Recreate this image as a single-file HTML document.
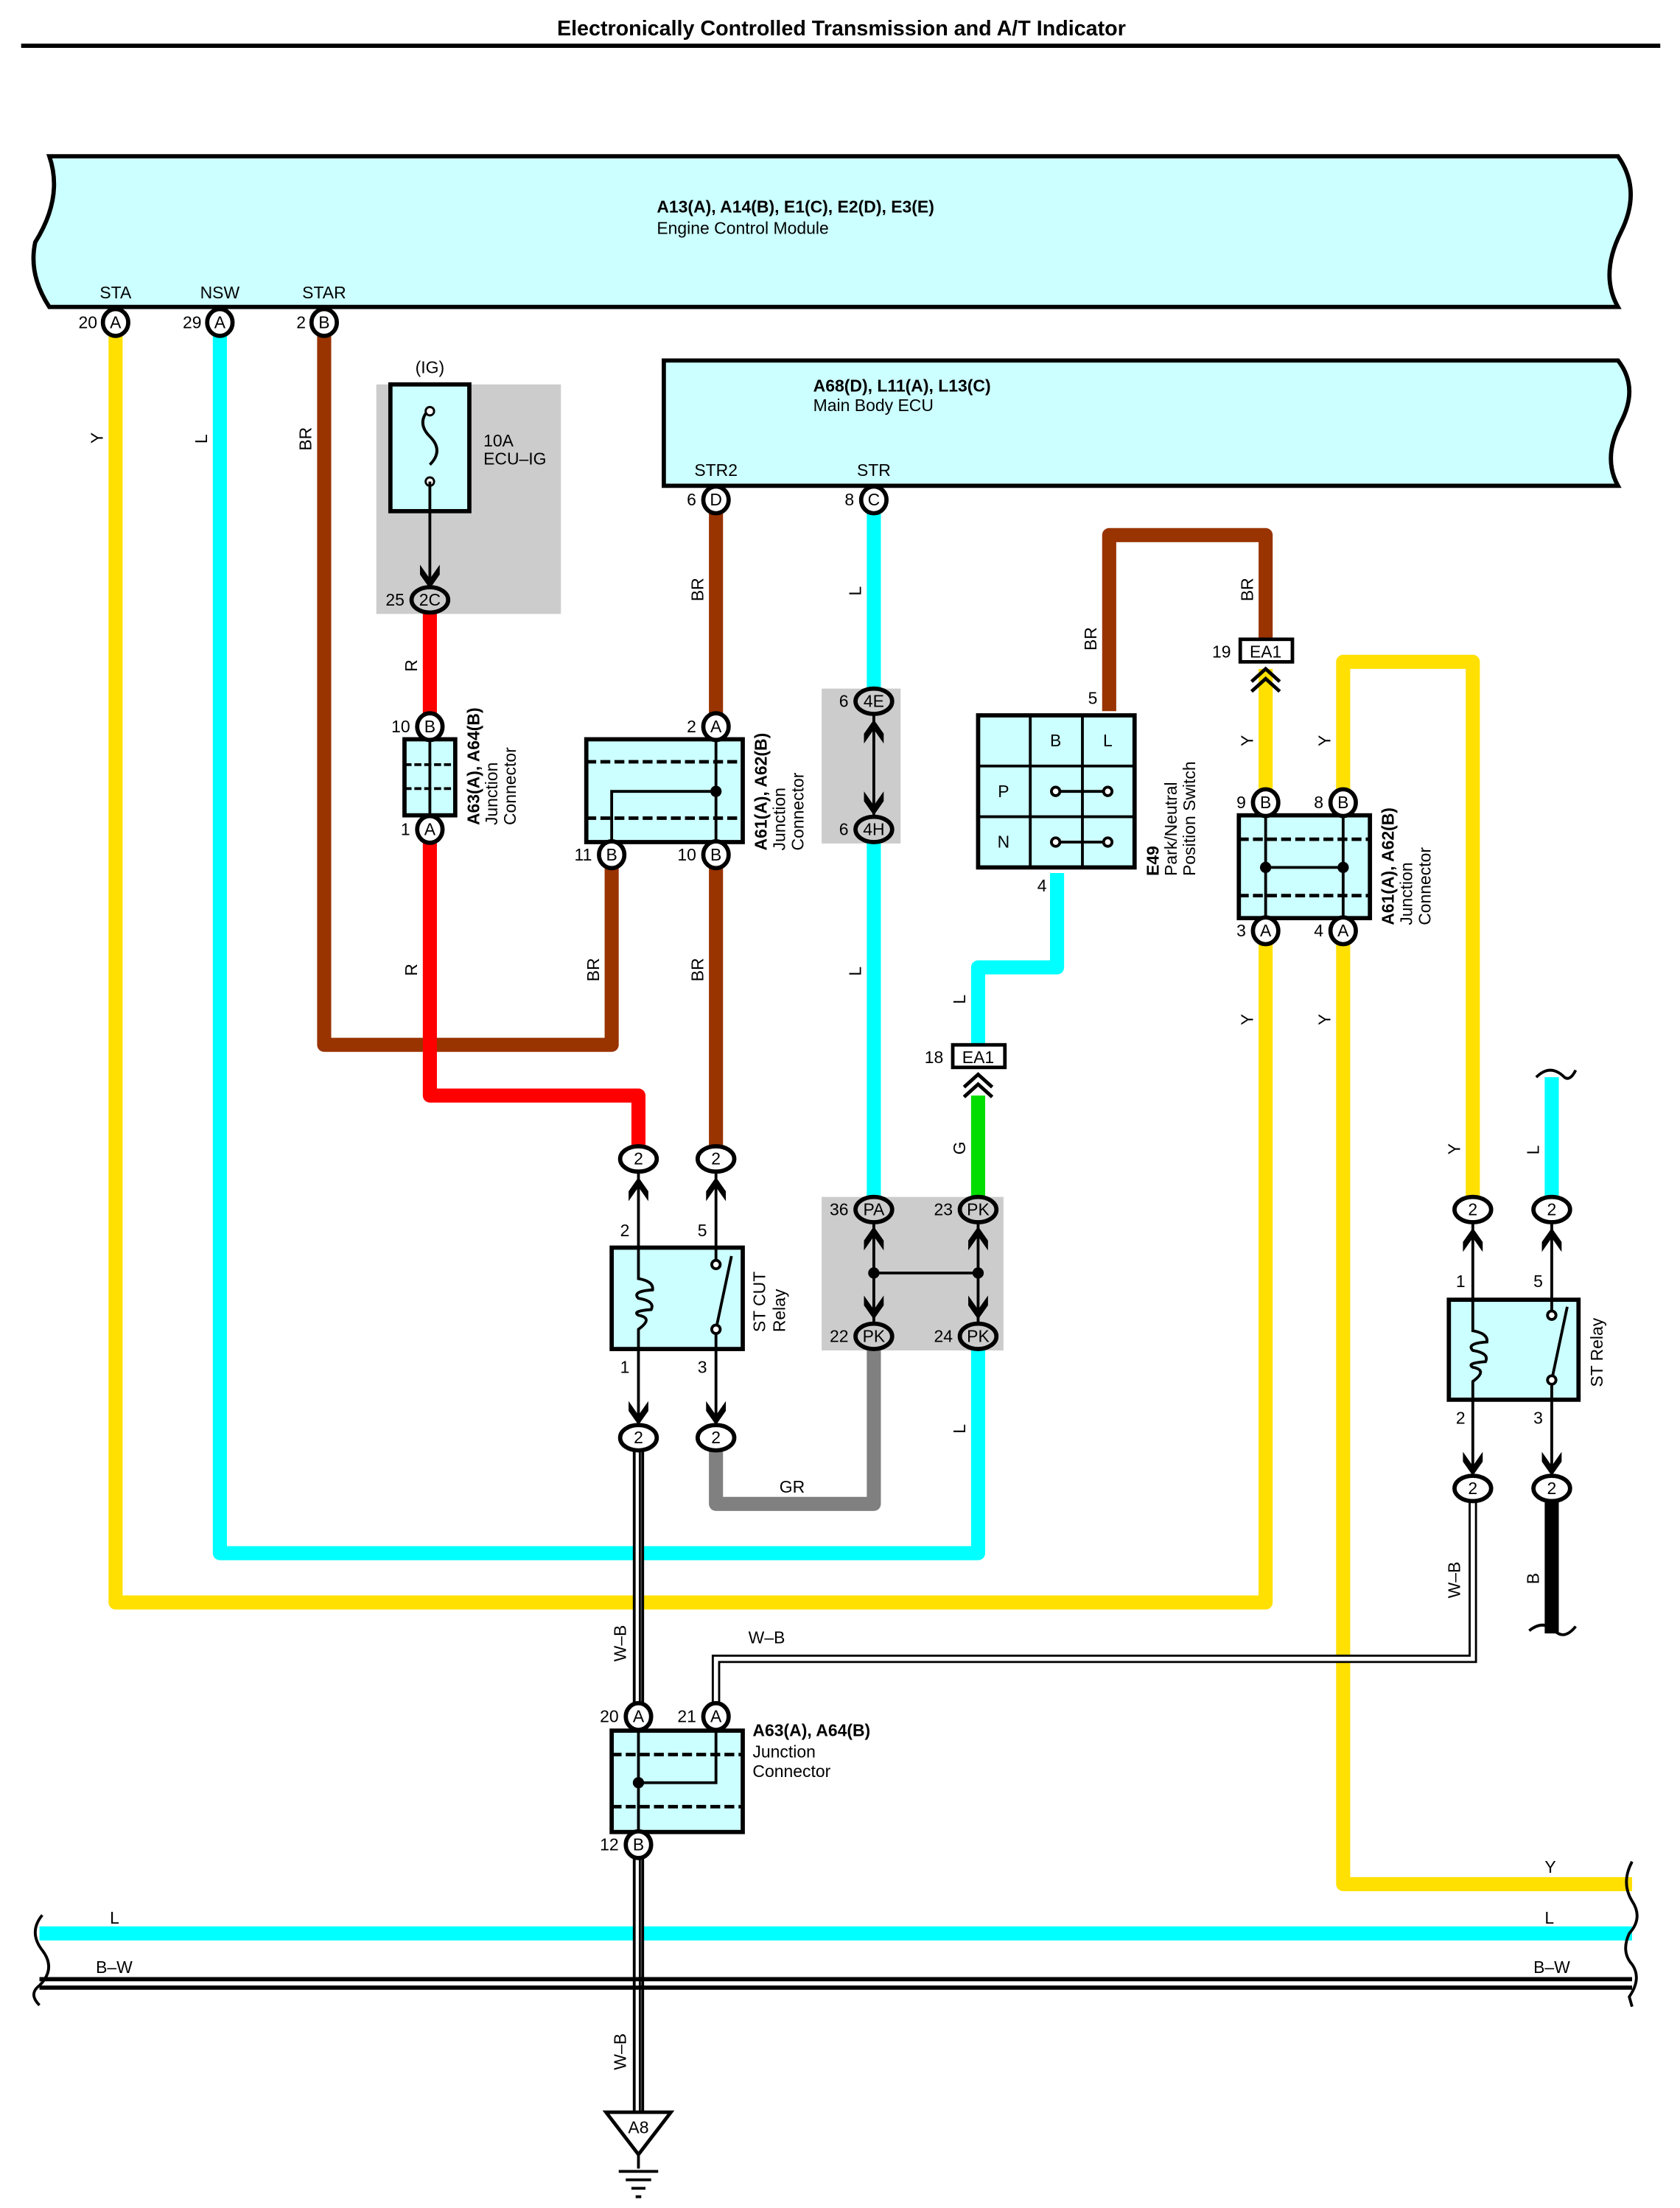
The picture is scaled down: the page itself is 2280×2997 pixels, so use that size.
<!DOCTYPE html>
<html><head><meta charset="utf-8"><style>
html,body{margin:0;padding:0;background:#fff}
svg{display:block}
text{font-family:"Liberation Sans",sans-serif;font-size:12px;fill:#000}
.b{font-weight:bold}
</style></head><body>
<svg width="2280" height="2997" viewBox="0 0 1192 1568" preserveAspectRatio="none" xmlns="http://www.w3.org/2000/svg">
<defs>
<symbol id="up" viewBox="-8 -10 16 20" overflow="visible"><path d="M-7,8 L0,-2 L7,8 L7,1 L0,-9 L-7,1 Z" fill="#000"/></symbol>
</defs>
<text x="597" y="25" text-anchor="middle" class="b" style="font-size:15px">Electronically Controlled Transmission and A/T Indicator</text>
<rect x="15" y="31" width="1163" height="3" fill="#000"/>

<rect x="267" y="273" width="131" height="163" fill="#cccccc"/>
<rect x="583" y="489" width="56" height="110" fill="#cccccc"/>
<rect x="583" y="850" width="129" height="109" fill="#cccccc"/>

<path d="M35,111 L1148,111 Q1165,135 1150,165 Q1135,195 1148,218 L35,218 Q20,195 25,172 Q45,140 35,111 Z" fill="#ccffff" stroke="#000" stroke-width="3"/>
<text x="466" y="151" class="b">A13(A), A14(B), E1(C), E2(D), E3(E)</text>
<text x="466" y="166">Engine Control Module</text>
<text x="82" y="212" text-anchor="middle">STA</text>
<text x="156" y="212" text-anchor="middle">NSW</text>
<text x="230" y="212" text-anchor="middle">STAR</text>

<path d="M471,256 L1148,256 Q1163,275 1150,300 Q1137,325 1148,345 L471,345 Z" fill="#ccffff" stroke="#000" stroke-width="3"/>
<text x="577" y="278" class="b">A68(D), L11(A), L13(C)</text>
<text x="577" y="292">Main Body ECU</text>
<text x="508" y="338" text-anchor="middle">STR2</text>
<text x="620" y="338" text-anchor="middle">STR</text>

<g fill="none" stroke-width="10" stroke-linejoin="round">
<path d="M82,235 V1138 H898 V475" stroke="#ffe000"/>
<path d="M156,235 V1103 H694 V955" stroke="#00ffff"/>
<path d="M230,235 V742 H434 V613" stroke="#993300"/>
<path d="M305,432 V510 M305,595 V778 H453 V815" stroke="#ff0000"/>
<path d="M508,361 V510 M508,613 V815" stroke="#993300"/>
<path d="M620,361 V490 M620,595 V852" stroke="#00ffff"/>
<path d="M620,955 V1068 H508 V1028" stroke="#808080"/>
<path d="M787,505 V380 H898 V455" stroke="#993300"/>
<path d="M750,620 V687 H694 V742" stroke="#00ffff"/>
<path d="M694,778 V852" stroke="#00dd00"/>
<path d="M953,562 V470 H1045 V852" stroke="#ffe000"/>
<path d="M953,667 V1338 H1158" stroke="#ffe000"/>
<path d="M1101,765 V852" stroke="#00ffff"/>
<path d="M1101,1063 V1160" stroke="#000"/>
<path d="M28,1373 H1158" stroke="#00ffff"/>
</g>
<g fill="none">
<path d="M453,1028 V1500" stroke="#000" stroke-width="8"/>
<path d="M453,1028 V1500" stroke="#fff" stroke-width="4"/>
<path d="M454,1028 V1500" stroke="#000" stroke-width="1.5"/>
<path d="M508,1212 V1178 H1045 V1063" stroke="#000" stroke-width="6"/>
<path d="M508,1212 V1178 H1045 V1063" stroke="#fff" stroke-width="3"/>
</g>
<rect x="28" y="1404" width="1130" height="3" fill="#000"/>
<rect x="28" y="1410" width="1130" height="3" fill="#000"/>
<path d="M30,1360 Q20,1372 30,1385 Q40,1398 28,1410 Q20,1416 28,1424" fill="none" stroke="#000" stroke-width="2"/>
<path d="M1158,1322 Q1150,1337 1158,1350 Q1166,1362 1156,1373 Q1150,1386 1158,1395 Q1165,1405 1156,1418 L1158,1425" fill="none" stroke="#000" stroke-width="2"/>
<path d="M1090,765 Q1100,755 1110,765 Q1114,768 1118,760" fill="none" stroke="#000" stroke-width="2"/>
<path d="M1085,1158 Q1095,1150 1103,1158 Q1110,1165 1118,1155" fill="none" stroke="#000" stroke-width="2"/>

<rect x="277" y="273" width="56" height="90" fill="#ccffff" stroke="#000" stroke-width="3"/>
<path d="M305,290 Q295,300 305,310 Q315,320 305,330" fill="none" stroke="#000" stroke-width="2"/>
<circle cx="305" cy="292" r="3" fill="#fff" stroke="#000" stroke-width="1.5"/>
<circle cx="305" cy="342" r="3" fill="#fff" stroke="#000" stroke-width="1.5"/>
<path d="M305,342 V412" stroke="#000" stroke-width="2"/>
<use href="#up" x="297" y="405" width="16" height="20" transform="rotate(180 305 412)"/>
<text x="305" y="265" text-anchor="middle">(IG)</text>
<text x="343" y="317">10A</text>
<text x="343" y="330">ECU–IG</text>

<rect x="287" y="525" width="36" height="54" fill="#ccffff" stroke="#000" stroke-width="3"/>
<path d="M305,525 V579" stroke="#000" stroke-width="2"/>
<path d="M287,543 H323 M287,560 H323" stroke="#000" stroke-width="2" stroke-dasharray="5,2"/>
<text transform="translate(340,586) rotate(-90)" class="b">A63(A), A64(B)</text>
<text transform="translate(353,586) rotate(-90)">Junction</text>
<text transform="translate(366,586) rotate(-90)">Connector</text>

<rect x="416" y="525" width="111" height="73" fill="#ccffff" stroke="#000" stroke-width="3"/>
<path d="M416,541 H527 M416,581 H527" stroke="#000" stroke-width="2.5" stroke-dasharray="7,3"/>
<path d="M508,525 V598 M508,562 H434 V598" fill="none" stroke="#000" stroke-width="2"/>
<circle cx="508" cy="562" r="4" fill="#000"/>
<text transform="translate(544,604) rotate(-90)" class="b">A61(A), A62(B)</text>
<text transform="translate(557,604) rotate(-90)">Junction</text>
<text transform="translate(570,604) rotate(-90)">Connector</text>

<path d="M620,505 V582" stroke="#000" stroke-width="2"/>
<use href="#up" x="612" y="510" width="16" height="20"/>
<use href="#up" x="612" y="560" width="16" height="20" transform="rotate(180 620 570)"/>

<rect x="694" y="508" width="111" height="108" fill="#ccffff" stroke="#000" stroke-width="3"/>
<path d="M731,508 V616 M768,508 V616 M694,544 H805 M694,580 H805" stroke="#000" stroke-width="2"/>
<text x="749" y="530" text-anchor="middle">B</text>
<text x="786" y="530" text-anchor="middle">L</text>
<text x="712" y="566" text-anchor="middle">P</text>
<text x="712" y="602" text-anchor="middle">N</text>
<path d="M749,562 H786 M749,598 H786" stroke="#000" stroke-width="2"/>
<g fill="#fff" stroke="#000" stroke-width="2"><circle cx="749" cy="562" r="3"/><circle cx="786" cy="562" r="3"/><circle cx="749" cy="598" r="3"/><circle cx="786" cy="598" r="3"/></g>
<text x="772" y="500">5</text>
<text x="736" y="633">4</text>
<text transform="translate(822,622) rotate(-90)" class="b">E49</text>
<text transform="translate(835,622) rotate(-90)">Park/Neutral</text>
<text transform="translate(848,622) rotate(-90)">Position Switch</text>

<rect x="880" y="454" width="37" height="16" fill="#fff" stroke="#000" stroke-width="2.5"/>
<text x="898" y="467" text-anchor="middle">EA1</text>
<text x="860" y="467">19</text>
<path d="M888,484 L898,475 L908,484 M888,491 L898,482 L908,491" fill="none" stroke="#000" stroke-width="2.5"/>
<rect x="676" y="742" width="37" height="16" fill="#fff" stroke="#000" stroke-width="2.5"/>
<text x="694" y="755" text-anchor="middle">EA1</text>
<text x="656" y="755">18</text>
<path d="M684,772 L694,763 L704,772 M684,779 L694,770 L704,779" fill="none" stroke="#000" stroke-width="2.5"/>

<rect x="879" y="579" width="93" height="73" fill="#ccffff" stroke="#000" stroke-width="3"/>
<path d="M879,596 H972 M879,636 H972" stroke="#000" stroke-width="2.5" stroke-dasharray="7,3"/>
<path d="M898,579 V652 M953,579 V652 M898,616 H953" stroke="#000" stroke-width="2"/>
<circle cx="898" cy="616" r="4" fill="#000"/><circle cx="953" cy="616" r="4" fill="#000"/>
<text transform="translate(989,657) rotate(-90)" class="b">A61(A), A62(B)</text>
<text transform="translate(1002,657) rotate(-90)">Junction</text>
<text transform="translate(1015,657) rotate(-90)">Connector</text>

<path d="M453,830 V1014 M508,830 V1014" stroke="#000" stroke-width="2"/>
<rect x="434" y="886" width="93" height="72" fill="#ccffff" stroke="#000" stroke-width="3"/>
<path d="M453,886 V908 Q464,910 463,916 Q448,917 453,922 Q465,924 462,930 Q448,931 453,934 Q464,936 453,944 V958" fill="none" stroke="#000" stroke-width="2"/>
<path d="M508,886 V896 M508,944 V958 M508,944 L519,892" fill="none" stroke="#000" stroke-width="2"/>
<circle cx="508" cy="898" r="3" fill="#fff" stroke="#000" stroke-width="2"/>
<circle cx="508" cy="944" r="3" fill="#fff" stroke="#000" stroke-width="2"/>
<text x="440" y="878">2</text><text x="495" y="878">5</text>
<text x="440" y="975">1</text><text x="495" y="975">3</text>
<text transform="translate(543,946) rotate(-90)">ST CUT</text>
<text transform="translate(557,946) rotate(-90)">Relay</text>
<use href="#up" x="445" y="835" width="16" height="20"/>
<use href="#up" x="500" y="835" width="16" height="20"/>
<use href="#up" x="445" y="993" width="16" height="20" transform="rotate(180 453 1003)"/>
<use href="#up" x="500" y="993" width="16" height="20" transform="rotate(180 508 1003)"/>

<path d="M620,865 V942 M694,865 V942 M620,904 H694" stroke="#000" stroke-width="2"/>
<circle cx="620" cy="904" r="4" fill="#000"/><circle cx="694" cy="904" r="4" fill="#000"/>
<use href="#up" x="612" y="870" width="16" height="20"/>
<use href="#up" x="686" y="870" width="16" height="20"/>
<use href="#up" x="612" y="918" width="16" height="20" transform="rotate(180 620 928)"/>
<use href="#up" x="686" y="918" width="16" height="20" transform="rotate(180 694 928)"/>

<path d="M1045,866 V1050 M1101,866 V1050" stroke="#000" stroke-width="2"/>
<rect x="1028" y="923" width="92" height="71" fill="#ccffff" stroke="#000" stroke-width="3"/>
<path d="M1045,923 V945 Q1056,947 1055,953 Q1040,954 1045,959 Q1057,961 1054,967 Q1040,968 1045,971 Q1056,973 1045,981 V994" fill="none" stroke="#000" stroke-width="2"/>
<path d="M1101,923 V932 M1101,980 V994 M1101,980 L1112,928" fill="none" stroke="#000" stroke-width="2"/>
<circle cx="1101" cy="934" r="3" fill="#fff" stroke="#000" stroke-width="2"/>
<circle cx="1101" cy="980" r="3" fill="#fff" stroke="#000" stroke-width="2"/>
<text x="1033" y="914">1</text><text x="1088" y="914">5</text>
<text x="1033" y="1011">2</text><text x="1088" y="1011">3</text>
<text transform="translate(1137,985) rotate(-90)">ST Relay</text>
<use href="#up" x="1037" y="871" width="16" height="20"/>
<use href="#up" x="1093" y="871" width="16" height="20"/>
<use href="#up" x="1037" y="1029" width="16" height="20" transform="rotate(180 1045 1039)"/>
<use href="#up" x="1093" y="1029" width="16" height="20" transform="rotate(180 1101 1039)"/>

<rect x="434" y="1229" width="93" height="72" fill="#ccffff" stroke="#000" stroke-width="3"/>
<path d="M434,1246 H527 M434,1283 H527" stroke="#000" stroke-width="2.5" stroke-dasharray="7,3"/>
<path d="M453,1229 V1301 M508,1229 V1266 H453" fill="none" stroke="#000" stroke-width="2"/>
<circle cx="453" cy="1266" r="4" fill="#000"/>
<text x="534" y="1233" class="b">A63(A), A64(B)</text>
<text x="534" y="1248">Junction</text>
<text x="534" y="1262">Connector</text>

<path d="M430,1500 H476 L453,1530 Z" fill="#fff" stroke="#000" stroke-width="2.5"/>
<text x="453" y="1515" text-anchor="middle">A8</text>
<path d="M453,1530 V1540 M439,1542 H467 M444,1548 H462 M448,1554 H458 M451,1560 H455" stroke="#000" stroke-width="2"/>

<g fill="#fff" stroke="#000" stroke-width="3">
<ellipse cx="82" cy="229" rx="9" ry="9.5"/><ellipse cx="156" cy="229" rx="9" ry="9.5"/><ellipse cx="230" cy="229" rx="9" ry="9.5"/>
<ellipse cx="508" cy="355" rx="9" ry="9.5"/><ellipse cx="620" cy="355" rx="9" ry="9.5"/>
<ellipse cx="305" cy="516" rx="9" ry="9.5"/><ellipse cx="305" cy="589" rx="9" ry="9.5"/>
<ellipse cx="508" cy="516" rx="9" ry="9.5"/><ellipse cx="434" cy="607" rx="9" ry="9.5"/><ellipse cx="508" cy="607" rx="9" ry="9.5"/>
<ellipse cx="898" cy="570" rx="9" ry="9.5"/><ellipse cx="953" cy="570" rx="9" ry="9.5"/><ellipse cx="898" cy="661" rx="9" ry="9.5"/><ellipse cx="953" cy="661" rx="9" ry="9.5"/>
<ellipse cx="453" cy="1219" rx="9" ry="9.5"/><ellipse cx="508" cy="1219" rx="9" ry="9.5"/><ellipse cx="453" cy="1310" rx="9" ry="9.5"/>
</g>
<g fill="#cccccc" stroke="#000" stroke-width="3">
<ellipse cx="305" cy="426" rx="13" ry="9"/>
<ellipse cx="620" cy="498" rx="13" ry="9"/><ellipse cx="620" cy="589" rx="13" ry="9"/>
<ellipse cx="620" cy="859" rx="13" ry="9"/><ellipse cx="694" cy="859" rx="13" ry="9"/>
<ellipse cx="620" cy="949" rx="13" ry="9"/><ellipse cx="694" cy="949" rx="13" ry="9"/>
</g>
<g fill="#fff" stroke="#000" stroke-width="3">
<ellipse cx="453" cy="823" rx="13" ry="9"/><ellipse cx="508" cy="823" rx="13" ry="9"/>
<ellipse cx="453" cy="1021" rx="13" ry="9"/><ellipse cx="508" cy="1021" rx="13" ry="9"/>
<ellipse cx="1045" cy="859" rx="13" ry="9"/><ellipse cx="1101" cy="859" rx="13" ry="9"/>
<ellipse cx="1045" cy="1057" rx="13" ry="9"/><ellipse cx="1101" cy="1057" rx="13" ry="9"/>
</g>
<g text-anchor="middle">
<text x="82" y="233">A</text><text x="156" y="233">A</text><text x="230" y="233">B</text>
<text x="508" y="359">D</text><text x="620" y="359">C</text>
<text x="305" y="520">B</text><text x="305" y="593">A</text>
<text x="508" y="520">A</text><text x="434" y="611">B</text><text x="508" y="611">B</text>
<text x="898" y="574">B</text><text x="953" y="574">B</text><text x="898" y="665">A</text><text x="953" y="665">A</text>
<text x="453" y="1223">A</text><text x="508" y="1223">A</text><text x="453" y="1314">B</text>
<text x="305" y="430">2C</text><text x="620" y="502">4E</text><text x="620" y="593">4H</text>
<text x="620" y="863">PA</text><text x="694" y="863">PK</text><text x="620" y="953">PK</text><text x="694" y="953">PK</text>
<text x="453" y="827">2</text><text x="508" y="827">2</text><text x="453" y="1025">2</text><text x="508" y="1025">2</text>
<text x="1045" y="863">2</text><text x="1101" y="863">2</text><text x="1045" y="1061">2</text><text x="1101" y="1061">2</text>
</g>
<g text-anchor="end">
<text x="69" y="233">20</text><text x="143" y="233">29</text><text x="217" y="233">2</text>
<text x="494" y="359">6</text><text x="606" y="359">8</text>
<text x="287" y="430">25</text>
<text x="291" y="520">10</text><text x="291" y="593">1</text>
<text x="494" y="520">2</text><text x="420" y="611">11</text><text x="494" y="611">10</text>
<text x="602" y="502">6</text><text x="602" y="593">6</text>
<text x="602" y="863">36</text><text x="676" y="863">23</text><text x="602" y="953">22</text><text x="676" y="953">24</text>
<text x="884" y="574">9</text><text x="939" y="574">8</text><text x="884" y="665">3</text><text x="939" y="665">4</text>
<text x="439" y="1223">20</text><text x="494" y="1223">21</text><text x="439" y="1314">12</text>
</g>
<g>
<text transform="translate(73,315) rotate(-90)">Y</text>
<text transform="translate(147,315) rotate(-90)">L</text>
<text transform="translate(221,320) rotate(-90)">BR</text>
<text transform="translate(296,477) rotate(-90)">R</text>
<text transform="translate(296,693) rotate(-90)">R</text>
<text transform="translate(425,697) rotate(-90)">BR</text>
<text transform="translate(499,427) rotate(-90)">BR</text>
<text transform="translate(499,697) rotate(-90)">BR</text>
<text transform="translate(611,423) rotate(-90)">L</text>
<text transform="translate(611,693) rotate(-90)">L</text>
<text transform="translate(685,713) rotate(-90)">L</text>
<text transform="translate(685,820) rotate(-90)">G</text>
<text transform="translate(685,1018) rotate(-90)">L</text>
<text transform="translate(778,462) rotate(-90)">BR</text>
<text transform="translate(889,427) rotate(-90)">BR</text>
<text transform="translate(889,530) rotate(-90)">Y</text>
<text transform="translate(944,530) rotate(-90)">Y</text>
<text transform="translate(889,728) rotate(-90)">Y</text>
<text transform="translate(944,728) rotate(-90)">Y</text>
<text transform="translate(1036,820) rotate(-90)">Y</text>
<text transform="translate(1092,820) rotate(-90)">L</text>
<text transform="translate(1036,1135) rotate(-90)">W–B</text>
<text transform="translate(1092,1125) rotate(-90)">B</text>
<text transform="translate(444,1180) rotate(-90)">W–B</text>
<text transform="translate(444,1470) rotate(-90)">W–B</text>
</g>
<text x="553" y="1060">GR</text>
<text x="531" y="1167">W–B</text>
<text x="1096" y="1330">Y</text>
<text x="78" y="1366">L</text>
<text x="1096" y="1366">L</text>
<text x="68" y="1401">B–W</text>
<text x="1088" y="1401">B–W</text>
</svg>
</body></html>
